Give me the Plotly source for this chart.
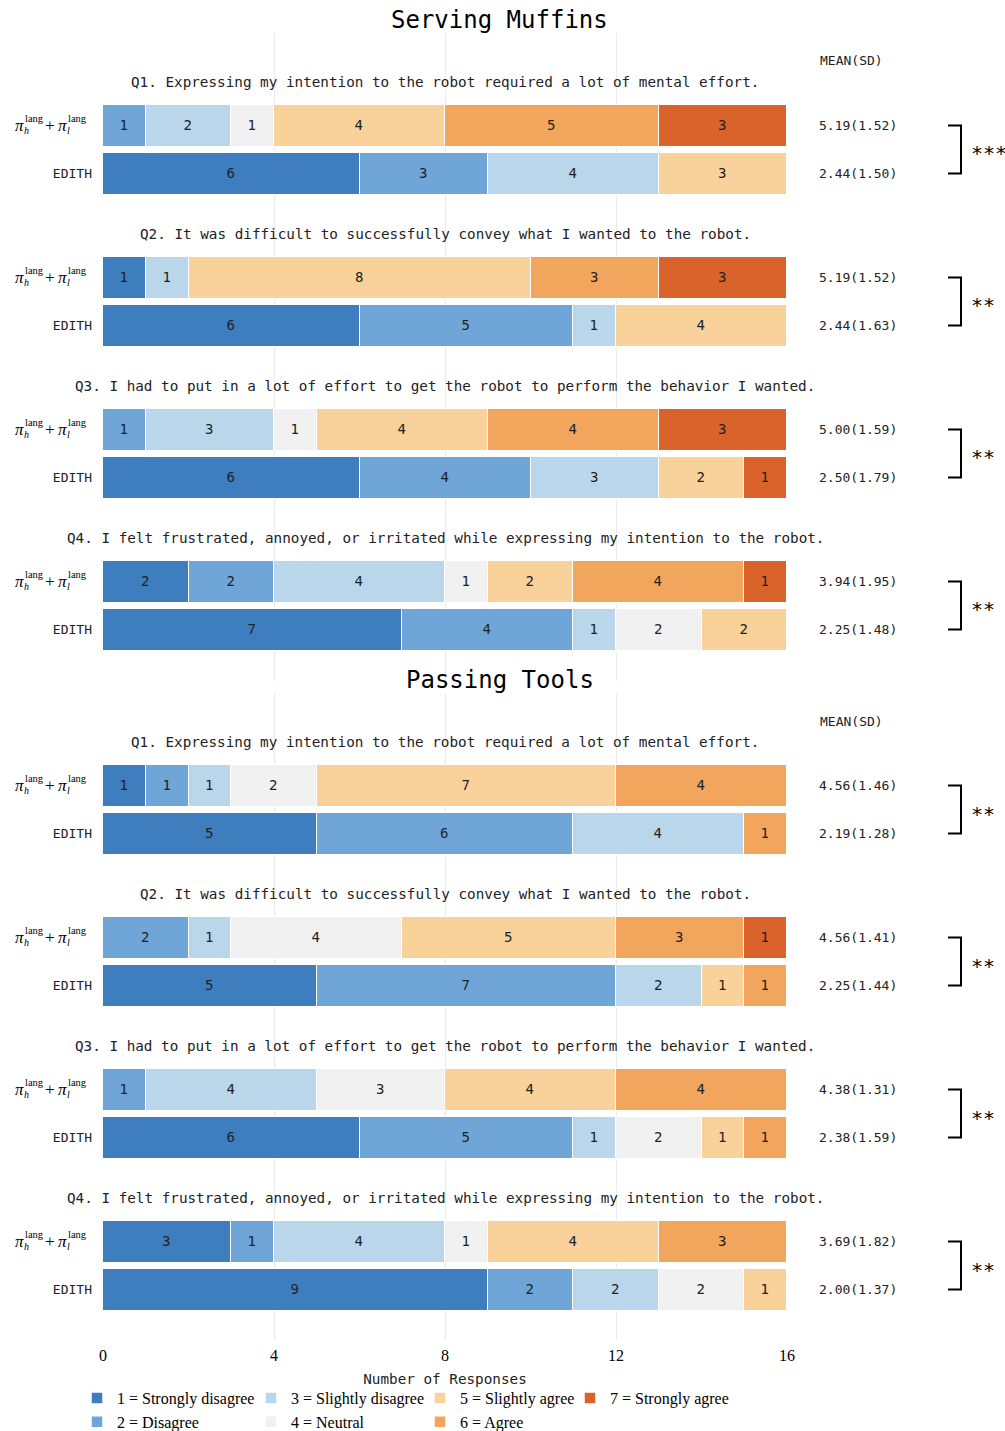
import plotly.graph_objects as go

# ---------------- data ----------------
level_labels = ["1 = Strongly disagree", "2 = Disagree", "3 = Slightly disagree", "4 = Neutral",
                "5 = Slightly agree", "6 = Agree", "7 = Strongly agree"]
level_colors = ["#3e7ebf", "#6fa6d7", "#bad6ea", "#f1f1f1", "#f8d19b", "#f2a55c", "#d9632b"]

questions = [
    "Q1. Expressing my intention to the robot required a lot of mental effort.",
    "Q2. It was difficult to successfully convey what I wanted to the robot.",
    "Q3. I had to put in a lot of effort to get the robot to perform the behavior I wanted.",
    "Q4. I felt frustrated, annoyed, or irritated while expressing my intention to the robot.",
]
tasks = ["Serving Muffins", "Passing Tools"]

# counts of responses at levels 1..7, per question
muffins_pi = [[0, 1, 2, 1, 4, 5, 3], [1, 0, 1, 0, 8, 3, 3], [0, 1, 3, 1, 4, 4, 3], [2, 2, 4, 1, 2, 4, 1]]
muffins_edith = [[6, 3, 4, 0, 3, 0, 0], [6, 5, 1, 0, 4, 0, 0], [6, 4, 3, 0, 2, 0, 1], [7, 4, 1, 2, 2, 0, 0]]
tools_pi = [[1, 1, 1, 2, 7, 4, 0], [0, 2, 1, 4, 5, 3, 1], [0, 1, 4, 3, 4, 4, 0], [3, 1, 4, 1, 4, 3, 0]]
tools_edith = [[5, 6, 4, 0, 0, 1, 0], [5, 7, 2, 0, 1, 1, 0], [6, 5, 1, 2, 1, 1, 0], [9, 2, 2, 2, 1, 0, 0]]

muffins_pi_stats = ["5.19(1.52)", "5.19(1.52)", "5.00(1.59)", "3.94(1.95)"]
muffins_edith_stats = ["2.44(1.50)", "2.44(1.63)", "2.50(1.79)", "2.25(1.48)"]
tools_pi_stats = ["4.56(1.46)", "4.56(1.41)", "4.38(1.31)", "3.69(1.82)"]
tools_edith_stats = ["2.19(1.28)", "2.25(1.44)", "2.38(1.59)", "2.00(1.37)"]
muffins_sig = ["***", "**", "**", "**"]
tools_sig = ["**", "**", "**", "**"]

x_ticks = [0, 4, 8, 12, 16]

# ---------------- layout helpers ----------------
W, H = 1005, 1431
ML, MR, MT, MB = 103, 218, 0, 91
PW = W - ML - MR
PH = H - MT - MB
MONO = "DejaVu Sans Mono"
SERIF = "Liberation Serif"
TXT = "#222222"


def px_x(x):
    return (x - ML) / PW


def px_y(y):
    return (PH - (y - MT)) / PH


panels = [
    dict(task=tasks[0], pi=muffins_pi, ed=muffins_edith, pis=muffins_pi_stats, eds=muffins_edith_stats,
         sig=muffins_sig, top=33, bot=681, title_y=20, xa="x", ya="y"),
    dict(task=tasks[1], pi=tools_pi, ed=tools_edith, pis=tools_pi_stats, eds=tools_edith_stats,
         sig=tools_sig, top=693, bot=1340, title_y=680, xa="x2", ya="y2"),
]

Q_STEP = 152
PI_OFF = 92.5
ED_OFF = PI_OFF + 48
QT_OFF = 49
HDR_OFF = 28
BAR_W = 42

fig = go.Figure()
annotations = []
shapes = []

for pi_idx, p in enumerate(panels):
    nq = len(questions)
    pi_y = [PI_OFF + Q_STEP * q for q in range(nq)]
    ed_y = [ED_OFF + Q_STEP * q for q in range(nq)]
    ys = []
    for q in range(nq):
        ys += [pi_y[q], ed_y[q]]
    for lv in range(7):
        vals = []
        for q in range(nq):
            vals += [p["pi"][q][lv], p["ed"][q][lv]]
        fig.add_trace(go.Bar(
            orientation="h", x=vals, y=ys, width=BAR_W,
            name=level_labels[lv],
            marker=dict(color=level_colors[lv], line=dict(color="white", width=1.5)),
            text=[str(v) if v > 0 else "" for v in vals],
            textposition="inside", insidetextanchor="middle", textangle=0,
            textfont=dict(family=MONO, size=14, color=TXT),
            xaxis=p["xa"], yaxis=p["ya"],
            showlegend=(pi_idx == 0),
            legend=["legend", "legend", "legend2", "legend2", "legend3", "legend3", "legend4"][lv],
            hoverinfo="skip",
        ))
    yref = p["ya"]
    # section title
    annotations.append(dict(text=p["task"], xref="paper", yref="paper", x=px_x(500), y=px_y(p["title_y"]),
                            xanchor="center", yanchor="middle", showarrow=False,
                            font=dict(family=MONO, size=24, color="black")))
    annotations.append(dict(text="MEAN(SD)", xref="paper", yref=yref, x=px_x(818), y=HDR_OFF,
                            xanchor="left", yanchor="middle", showarrow=False,
                            font=dict(family=MONO, size=13, color=TXT)))
    for q in range(nq):
        annotations.append(dict(text=questions[q], xref="x", yref=yref, x=8, y=QT_OFF + Q_STEP * q,
                                xanchor="center", yanchor="middle", showarrow=False,
                                font=dict(family=MONO, size=14.3, color=TXT)))
        annotations.append(dict(text=p["pis"][q], xref="paper", yref=yref, x=px_x(817), y=pi_y[q],
                                xanchor="left", yanchor="middle", showarrow=False,
                                font=dict(family=MONO, size=13, color=TXT)))
        annotations.append(dict(text=p["eds"][q], xref="paper", yref=yref, x=px_x(817), y=ed_y[q],
                                xanchor="left", yanchor="middle", showarrow=False,
                                font=dict(family=MONO, size=13, color=TXT)))
        # bracket
        x0, x1 = px_x(948), px_x(961)
        shapes.append(dict(type="path", xref="paper", yref=yref,
                           path=f"M {x0},{pi_y[q]} L {x1},{pi_y[q]} L {x1},{ed_y[q]} L {x0},{ed_y[q]}",
                           line=dict(color="black", width=2)))
        annotations.append(dict(text=p["sig"][q], xref="paper", yref=yref, x=px_x(969),
                                y=(pi_y[q] + ed_y[q]) / 2, yshift=-4,
                                xanchor="left", yanchor="middle", showarrow=False,
                                font=dict(family=MONO, size=20, color="black")))
        # pi label pieces
        pieces = [("<i>π</i>", 13, 0, 17), ("<i>h</i>", 22, -5, 10), ("lang", 23, 7, 10.5),
                  ("+", 43, 0, 17), ("<i>π</i>", 56, 0, 17), ("<i>l</i>", 65, -5, 10), ("lang", 66, 7, 10.5)]
        for txt, xp, ysh, fs in pieces:
            annotations.append(dict(text=txt, xref="paper", yref=yref, x=px_x(xp), y=pi_y[q], yshift=ysh,
                                    xanchor="left", yanchor="middle", showarrow=False,
                                    font=dict(family=SERIF, size=fs, color="black")))

axis_common = dict(range=[0, 16], tickvals=x_ticks, showgrid=True, gridcolor="#ebebeb", gridwidth=1,
                   zeroline=False, showline=False, ticks="", automargin=False)
legend_common = dict(orientation="v", yanchor="top", xanchor="left", bgcolor="rgba(0,0,0,0)",
                     font=dict(family=SERIF, size=16, color="black"), itemwidth=30, tracegroupgap=0,
                     xref="container", yref="container", y=(H - 1381) / H, itemclick=False,
                     traceorder="normal")

fig.update_layout(
    width=W, height=H, margin=dict(l=ML, r=MR, t=MT, b=MB, autoexpand=False),
    paper_bgcolor="white", plot_bgcolor="white", barmode="stack", bargap=0,
    xaxis=dict(**axis_common, anchor="y", showticklabels=False),
    xaxis2=dict(**axis_common, anchor="y2", matches="x",
                tickfont=dict(family=SERIF, size=16, color="black"), ticklabelstandoff=4,
                title=dict(text="Number of Responses", font=dict(family=MONO, size=14.3, color=TXT), standoff=10)),
    yaxis=dict(domain=[px_y(681), px_y(33)], range=[681 - 33, 0], showgrid=False, zeroline=False,
               tickvals=[ED_OFF + Q_STEP * q for q in range(4)], ticktext=["EDITH"] * 4, ticks="",
               tickfont=dict(family=MONO, size=13, color=TXT), ticklabelstandoff=10, automargin=False),
    yaxis2=dict(domain=[px_y(1340), px_y(693)], range=[1340 - 693, 0], showgrid=False, zeroline=False,
                tickvals=[ED_OFF + Q_STEP * q for q in range(4)], ticktext=["EDITH"] * 4, ticks="",
                tickfont=dict(family=MONO, size=13, color=TXT), ticklabelstandoff=10, automargin=False),
    legend=dict(**legend_common, x=77 / W),
    legend2=dict(**legend_common, x=251 / W),
    legend3=dict(**legend_common, x=420 / W),
    legend4=dict(**legend_common, x=570 / W),
    annotations=annotations, shapes=shapes,
)

fig.write_html("out.html")
